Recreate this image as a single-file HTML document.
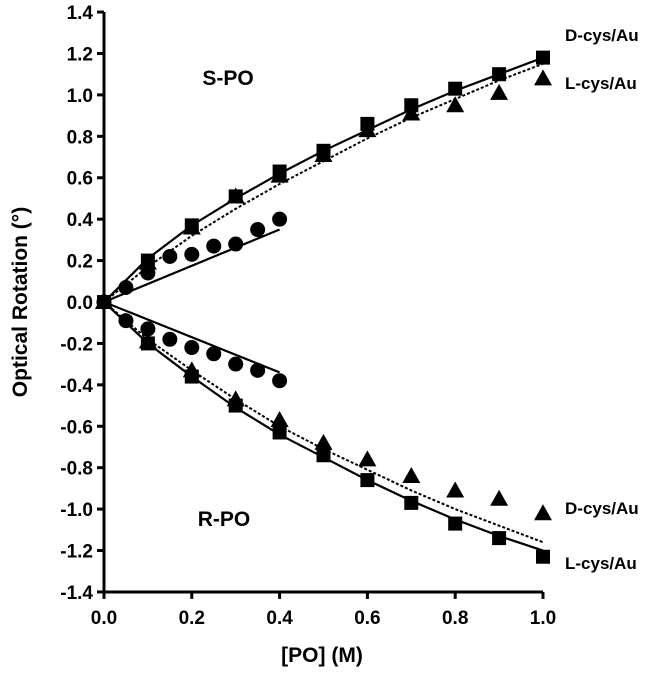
<!DOCTYPE html>
<html><head><meta charset="utf-8"><style>
html,body{margin:0;padding:0;background:#fff;}
svg{display:block;font-family:"Liberation Sans",Arial,sans-serif;font-weight:bold;}
</style></head><body>
<svg id="chart" width="660" height="674" viewBox="0 0 660 674">
<g id="axes"></g>
<g id="marks"></g>
<text x="27" y="302" font-size="21" text-anchor="middle" transform="rotate(-90 27 302)">Optical Rotation (°)</text>
<text x="322" y="662" font-size="21" text-anchor="middle">[PO] (M)</text>
<text x="228" y="85" font-size="21" text-anchor="middle">S-PO</text>
<text x="224" y="526" font-size="21" text-anchor="middle">R-PO</text>
<text x="565" y="41" font-size="17">D-cys/Au</text>
<text x="565" y="89" font-size="17">L-cys/Au</text>
<text x="565" y="514" font-size="17">D-cys/Au</text>
<text x="565" y="569" font-size="17">L-cys/Au</text>
</svg>
<script>
const xTicks = [0, 0.2, 0.4, 0.6, 0.8, 1.0];
const yTicks = [1.4, 1.2, 1.0, 0.8, 0.6, 0.4, 0.2, 0.0, -0.2, -0.4, -0.6, -0.8, -1.0, -1.2, -1.4];
const xFull = [0, 0.1, 0.2, 0.3, 0.4, 0.5, 0.6, 0.7, 0.8, 0.9, 1.0];
const xHalf = [0, 0.05, 0.1, 0.15, 0.2, 0.25, 0.3, 0.35, 0.4];
const sSquares = [0, 0.2, 0.37, 0.51, 0.63, 0.73, 0.86, 0.95, 1.03, 1.10, 1.18];
const sTriangles = [0, 0.19, 0.36, 0.51, 0.61, 0.71, 0.83, 0.91, 0.95, 1.01, 1.08];
const sCircles = [0, 0.07, 0.14, 0.22, 0.23, 0.27, 0.28, 0.35, 0.40];
const rSquares = [0, -0.20, -0.36, -0.50, -0.63, -0.74, -0.86, -0.97, -1.07, -1.14, -1.23];
const rTriangles = [0, -0.19, -0.33, -0.47, -0.57, -0.68, -0.76, -0.84, -0.91, -0.95, -1.02];
const rCircles = [0, -0.09, -0.13, -0.18, -0.22, -0.25, -0.30, -0.33, -0.38];
const fitX = [0, 0.1, 0.2, 0.3, 0.4, 0.5, 0.6, 0.7, 0.8, 0.9, 1.0];
const sSquareFit = [0, 0.21, 0.37, 0.50, 0.62, 0.73, 0.83, 0.93, 1.02, 1.10, 1.18];
const sTriangleFit = [0, 0.17, 0.32, 0.45, 0.57, 0.68, 0.79, 0.89, 0.98, 1.07, 1.15];
const sCircleFitX = [0, 0.4];
const sCircleFit = [0, 0.35];
const rSquareFit = [0, -0.20, -0.36, -0.51, -0.64, -0.75, -0.86, -0.96, -1.05, -1.13, -1.20];
const rTriangleFit = [0, -0.18, -0.33, -0.47, -0.60, -0.71, -0.81, -0.91, -1.00, -1.08, -1.16];
const rCircleFitX = [0, 0.4];
const rCircleFit = [0, -0.34];

const NS = "http://www.w3.org/2000/svg";
const X0 = 104, X1 = 543, Y0 = 302, YU = 207.1;
function sx(v){ return X0 + v * (X1 - X0); }
function sy(v){ return Y0 - v * YU; }
function mk(tag, attrs, parent){ const e = document.createElementNS(NS, tag); for (const k in attrs) e.setAttribute(k, attrs[k]); parent.appendChild(e); return e; }
const axes = document.getElementById('axes');
const marks = document.getElementById('marks');

let yl = mk('line', {x1: X0, y1: sy(1.4), x2: X0, y2: sy(-1.4), stroke: '#000', 'stroke-width': 3}, axes);


let xl = mk('line', {x1: X0, y1: sy(-1.4), x2: X1, y2: sy(-1.4), stroke: '#000', 'stroke-width': 3}, axes);


yTicks.forEach(t => {
  mk('line', {x1: X0 - 7, y1: sy(t), x2: X0, y2: sy(t), stroke: '#000', 'stroke-width': 3}, axes);
  const tx = mk('text', {x: X0 - 11, y: sy(t) + 7, 'font-size': 19, 'text-anchor': 'end'}, axes);
  tx.textContent = t.toFixed(1);
  
  
});
xTicks.forEach(t => {
  mk('line', {x1: sx(t), y1: sy(-1.4), x2: sx(t), y2: sy(-1.4) + 7, stroke: '#000', 'stroke-width': 3}, axes);
  const tx = mk('text', {x: sx(t), y: sy(-1.4) + 32, 'font-size': 19, 'text-anchor': 'middle'}, axes);
  tx.textContent = t.toFixed(1);
  
  
});

function line(xs, ys, dashed, name){
  const p = mk('polyline', {points: xs.map((x, i) => sx(x) + ',' + sy(ys[i])).join(' '), fill: 'none', stroke: '#000', 'stroke-width': dashed ? 2 : 2.2, 'stroke-dasharray': dashed ? '3,2' : 'none'}, marks);
  
  
}
line(fitX, sSquareFit, false, 's-dcys-fit');
line(fitX, sTriangleFit, true, 's-lcys-fit');
line(sCircleFitX, sCircleFit, false, 's-circle-fit');
line(fitX, rSquareFit, false, 'r-lcys-fit');
line(fitX, rTriangleFit, true, 'r-dcys-fit');
line(rCircleFitX, rCircleFit, false, 'r-circle-fit');

function square(x, y, name){
  const e = mk('rect', {x: sx(x) - 7, y: sy(y) - 7, width: 14, height: 14, fill: '#000'}, marks);
  
  
}
function tri(x, y, name){
  const cx = sx(x), cy = sy(y);
  const e = mk('polygon', {points: `${cx},${cy-9} ${cx-9},${cy+7} ${cx+9},${cy+7}`, fill: '#000'}, marks);
  
  
}
function circ(x, y, name){
  const e = mk('circle', {cx: sx(x), cy: sy(y), r: 7.5, fill: '#000'}, marks);
  
  
}
xFull.forEach((x, i) => { tri(x, sTriangles[i], 's-lcys-point'); square(x, sSquares[i], 's-dcys-point'); });
xFull.forEach((x, i) => { tri(x, rTriangles[i], 'r-dcys-point'); square(x, rSquares[i], 'r-lcys-point'); });
xHalf.forEach((x, i) => { circ(x, sCircles[i], 's-circle-point'); circ(x, rCircles[i], 'r-circle-point'); });
</script>
</body></html>
